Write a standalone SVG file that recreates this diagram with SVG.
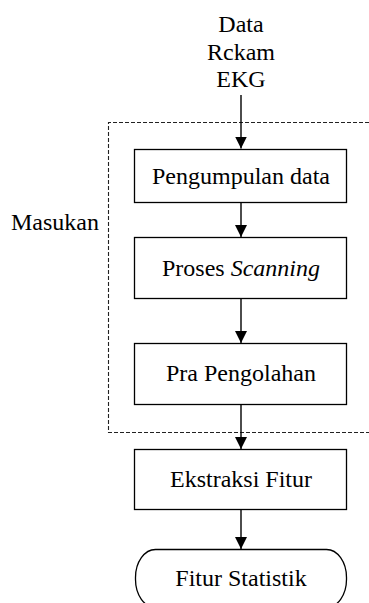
<svg xmlns="http://www.w3.org/2000/svg" width="369" height="603" viewBox="0 0 369 603">
<style>
.box{fill:#fff;stroke:#000;stroke-width:1.3}
.conn{stroke:#000;stroke-width:1.4;fill:none}
.dash{stroke:#222;stroke-width:1.1;fill:none;stroke-dasharray:4 2}
</style>
<defs>
<marker id="ah" viewBox="0 0 12 12" refX="12" refY="6" markerWidth="12" markerHeight="12" markerUnits="userSpaceOnUse" orient="auto">
<path d="M0,0 L12,6 L0,12 Z" fill="#000"/>
</marker>
</defs>
<rect width="369" height="603" fill="#fff"/>
<g id="input-group">
<path class="dash" d="M375 122.5 H108.5 V432.5 H375"/>
<text x="55" y="230" style="font-family:'Liberation Serif',serif;font-size:24px;text-anchor:middle">Masukan</text>
</g>
<g id="source">
<text x="241" y="32" style="font-family:'Liberation Serif',serif;font-size:24px;text-anchor:middle">Data</text>
<text x="241" y="60" style="font-family:'Liberation Serif',serif;font-size:24px;text-anchor:middle">Rckam</text>
<text x="241" y="87" style="font-family:'Liberation Serif',serif;font-size:24px;text-anchor:middle">EKG</text>
</g>
<g id="connectors">
<line class="conn" x1="241" y1="95" x2="241" y2="148.5" marker-end="url(#ah)"/>
<line class="conn" x1="241" y1="203" x2="241" y2="237" marker-end="url(#ah)"/>
<line class="conn" x1="241" y1="299" x2="241" y2="343" marker-end="url(#ah)"/>
<line class="conn" x1="241" y1="405" x2="241" y2="449" marker-end="url(#ah)"/>
<line class="conn" x1="241" y1="510" x2="241" y2="549" marker-end="url(#ah)"/>
</g>
<g id="n1">
<rect class="box" x="134.5" y="149.5" width="212" height="53"/>
<text x="241" y="184" style="font-family:'Liberation Serif',serif;font-size:24px;text-anchor:middle">Pengumpulan data</text>
</g>
<g id="n2">
<rect class="box" x="134.5" y="237.5" width="212" height="61"/>
<text x="241" y="276" style="font-family:'Liberation Serif',serif;font-size:24px;text-anchor:middle">Proses <tspan style="font-style:italic">Scanning</tspan></text>
</g>
<g id="n3">
<rect class="box" x="134.5" y="343.5" width="212" height="61"/>
<text x="241" y="381" style="font-family:'Liberation Serif',serif;font-size:24px;text-anchor:middle">Pra Pengolahan</text>
</g>
<g id="n4">
<rect class="box" x="134.5" y="449.5" width="212" height="60"/>
<text x="241" y="487" style="font-family:'Liberation Serif',serif;font-size:24px;text-anchor:middle">Ekstraksi Fitur</text>
</g>
<g id="n5">
<rect class="box" x="135.5" y="549.5" width="211" height="58" rx="20" ry="28"/>
<text x="241" y="586" style="font-family:'Liberation Serif',serif;font-size:24px;text-anchor:middle">Fitur Statistik</text>
</g>
</svg>
